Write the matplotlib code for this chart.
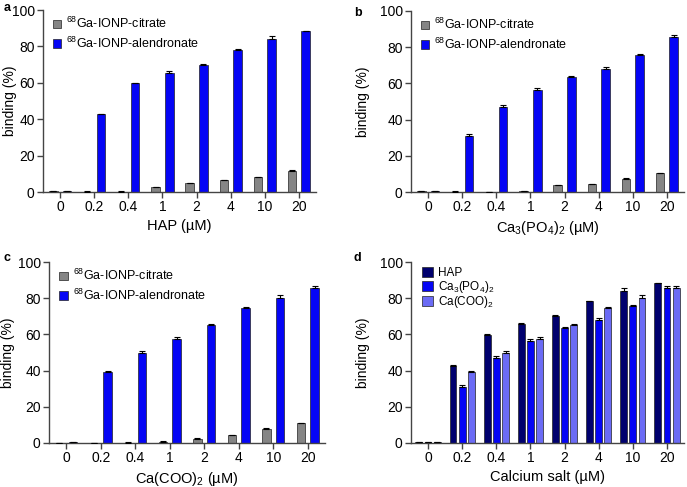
import numpy as np
import matplotlib
matplotlib.use("Agg")
import matplotlib.pyplot as plt
from matplotlib.patches import Patch

plt.rcParams['font.family'] = ['Liberation Sans', 'DejaVu Sans']
plt.rcParams['mathtext.fontset'] = 'custom'
plt.rcParams['mathtext.rm'] = 'Liberation Sans'
plt.rcParams['mathtext.it'] = 'Liberation Sans:italic'
plt.rcParams['mathtext.default'] = 'regular'

conc = ["0", "0.2", "0.4", "1", "2", "4", "10", "20"]

# panel a: HAP
hap_cit = [0.3, 0.2, 0.2, 2.5, 4.7, 6.5, 8.2, 11.5]
hap_cit_err = [0.1, 0.1, 0.1, 0.3, 0.3, 0.3, 0.3, 0.4]
hap_ale = [0.5, 42.8, 59.8, 65.5, 70.0, 78.2, 84.0, 88.3]
hap_ale_err = [0.2, 0.3, 0.3, 0.8, 0.5, 0.3, 1.5, 0.3]

# panel b: Ca3(PO4)2
cap_cit = [0.3, 0.2, 0.1, 0.3, 3.8, 4.2, 7.3, 10.3]
cap_cit_err = [0.1, 0.1, 0.1, 0.1, 0.3, 0.3, 0.4, 0.3]
cap_ale = [0.4, 31.2, 47.2, 56.3, 63.5, 68.2, 75.7, 85.5]
cap_ale_err = [0.2, 1.0, 0.8, 1.3, 0.4, 0.9, 0.8, 1.5]

# panel c: Ca(COO)2
cac_cit = [0.1, 0.1, 0.2, 0.7, 2.3, 4.3, 8.0, 11.0]
cac_cit_err = [0.1, 0.1, 0.1, 0.2, 0.3, 0.3, 0.2, 0.3]
cac_ale = [0.3, 39.5, 50.0, 57.6, 65.3, 74.5, 80.3, 85.6]
cac_ale_err = [0.2, 0.4, 0.8, 1.0, 0.5, 0.5, 1.2, 1.0]

GRAY = "#858585"
BLUE = "#0505f5"
NAVY = "#00006e"
LIGHT = "#6b6bf5"

W, H = 687, 487
fig = plt.figure(figsize=(W / 100, H / 100), dpi=100)


def make_ax(l, r, t, b):
    return fig.add_axes([l / W, 1 - b / H, (r - l) / W, (b - t) / H])


def style(ax, xlabel, ylab_x):
    for s in ["top", "right"]:
        ax.spines[s].set_visible(False)
    for s in ["left", "bottom"]:
        ax.spines[s].set_color("#444444")
        ax.spines[s].set_linewidth(1.0)
    ax.set_xlim(-0.5, 7.5)
    ax.set_ylim(0, 100)
    ax.set_yticks([0, 20, 40, 60, 80, 100])
    ax.set_xticks(range(len(conc)))
    ax.set_xticklabels(conc)
    ax.tick_params(labelsize=10, length=4, width=1, color="#444444", pad=2)
    ax.set_ylabel("binding (%)", fontsize=10)
    ax.yaxis.set_label_coords(ylab_x, 0.5)
    ax.set_xlabel(xlabel, fontsize=10.5, labelpad=3)


def bars(ax, vals, errs, offset, width, color):
    x = np.arange(len(vals)) + offset
    ax.bar(x, vals, width, color=color, edgecolor="#222222", linewidth=0.5, zorder=2)
    ax.errorbar(x, vals, yerr=[np.zeros(len(errs)), errs], fmt="none",
                ecolor="black", elinewidth=0.8, capsize=2.5, capthick=0.8, zorder=3)


def two_panel(ax, cit, cit_err, ale, ale_err, xlabel, ylab_x):
    bars(ax, cit, cit_err, -0.2, 0.25, GRAY)
    bars(ax, ale, ale_err, 0.2, 0.25, BLUE)
    style(ax, xlabel, ylab_x)
    handles = [Patch(facecolor=GRAY, edgecolor="#222222", linewidth=0.5),
               Patch(facecolor=BLUE, edgecolor="#222222", linewidth=0.5)]
    ax.legend(handles, ["$^{68}$Ga-IONP-citrate", "$^{68}$Ga-IONP-alendronate"],
              loc="upper left", bbox_to_anchor=(0.015, 1.0), frameon=False,
              fontsize=9, handlelength=0.65, handleheight=0.65, handletextpad=0.4,
              labelspacing=0.35, borderaxespad=0.0, borderpad=0.5)


ax_a = make_ax(43, 316, 10, 192)
two_panel(ax_a, hap_cit, hap_cit_err, hap_ale, hap_ale_err, "HAP (µM)", -0.095)

ax_b = make_ax(411, 684, 11, 192)
two_panel(ax_b, cap_cit, cap_cit_err, cap_ale, cap_ale_err, "Ca$_3$(PO$_4$)$_2$ (µM)", -0.15)

ax_c = make_ax(49, 325, 262, 443)
two_panel(ax_c, cac_cit, cac_cit_err, cac_ale, cac_ale_err, "Ca(COO)$_2$ (µM)", -0.123)

ax_d = make_ax(411, 684, 262, 443)
bars(ax_d, hap_ale, hap_ale_err, -0.27, 0.2, NAVY)
bars(ax_d, cap_ale, cap_ale_err, 0.0, 0.2, BLUE)
bars(ax_d, cac_ale, cac_ale_err, 0.27, 0.2, LIGHT)
style(ax_d, "Calcium salt (µM)", -0.15)
handles = [Patch(facecolor=c, edgecolor="#222222", linewidth=0.5) for c in (NAVY, BLUE, LIGHT)]
ax_d.legend(handles, ["HAP", "Ca$_3$(PO$_4$)$_2$", "Ca(COO)$_2$"],
            loc="upper left", bbox_to_anchor=(0.02, 1.0), frameon=False,
            fontsize=8.5, handlelength=0.95, handleheight=0.95, handletextpad=0.45,
            labelspacing=-0.05, borderaxespad=0.0, borderpad=0.45)

for lbl, x, y in [("a", 4, 8), ("b", 354, 13), ("c", 4, 258), ("d", 354, 258)]:
    fig.text(x / W, 1 - y / H, lbl, fontsize=9, fontweight="bold", va="center", ha="left")

fig.savefig("out.png", dpi=100)
